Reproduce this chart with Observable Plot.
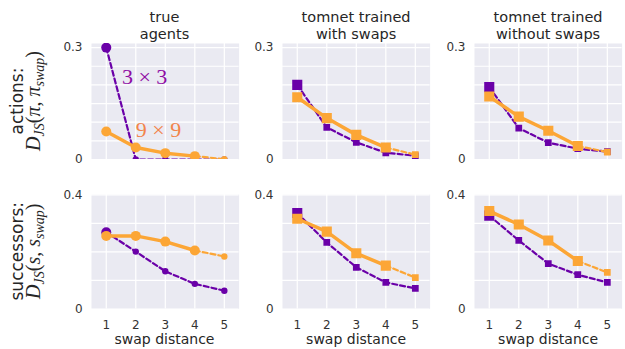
<!DOCTYPE html>
<html><head><meta charset="utf-8">
<script src="https://cdn.jsdelivr.net/npm/d3@7"></script>
<script src="https://cdn.jsdelivr.net/npm/@observablehq/plot@0.6"></script>
<style>
body{margin:0;background:#fff;}
#chart{position:relative;width:625px;height:349px;overflow:hidden;font-family:"DejaVu Sans",sans-serif;}
#chart svg{position:absolute;}
</style></head><body><div id="chart"></div>
<script>
// ---- data ----
const distances = [1, 2, 3, 4, 5];
const columnTitles = [["true", "agents"], ["tomnet trained", "with swaps"], ["tomnet trained", "without swaps"]];
const rowLabels = ["actions:", "successors:"];
const xLabel = "swap distance";
const seriesNames = ["3 × 3", "9 × 9"];
const trainedMax3 = 1;   // last in-distribution swap distance for 3x3
const trainedMax9 = 4;   // last in-distribution swap distance for 9x9

const actionsTrue3     = [0.300, 0.000, 0.000, 0.000, 0.000];
const actionsTrue9     = [0.075, 0.032, 0.017, 0.009, 0.001];
const actionsWith3     = [0.200, 0.086, 0.046, 0.018, 0.010];
const actionsWith9     = [0.167, 0.111, 0.066, 0.032, 0.013];
const actionsWithout3  = [0.194, 0.084, 0.045, 0.029, 0.021];
const actionsWithout9  = [0.169, 0.115, 0.077, 0.036, 0.020];
const successorsTrue3    = [0.269, 0.201, 0.132, 0.088, 0.064];
const successorsTrue9    = [0.256, 0.256, 0.236, 0.205, 0.184];
const successorsWith3    = [0.336, 0.233, 0.146, 0.093, 0.072];
const successorsWith9    = [0.316, 0.271, 0.195, 0.152, 0.110];
const successorsWithout3 = [0.327, 0.240, 0.159, 0.120, 0.093];
const successorsWithout9 = [0.343, 0.296, 0.240, 0.168, 0.128];

const topTicks = [0, 0.3], topTickLabels = ["0", "0.3"];
const bottomTicks = [0, 0.4], bottomTickLabels = ["0", "0.4"];
const topGrid = [0, 0.05, 0.1, 0.15, 0.2, 0.25, 0.3];
const bottomGrid = [0, 0.1, 0.2, 0.3, 0.4];
const annotations = [
  {text: "3 × 3", x: 1.53, y: 0.221, series: 0},
  {text: "9 × 9", x: 2.0, y: 0.078, series: 1}
];

// ---- styling / layout ----
const purple = "#6a00a8", orange = "#fca636";
const labelColors = ["#8f0da4", "#f2844b"];
const colL = [90.7, 282.3, 474.3], panelW = 147.6;
const rowT = [43, 194], rowH = [116, 114.5];
const ml = 45, mr = 5, mt = 5, mb = 45;

const panels = [
  {row: 0, col: 0, s3: actionsTrue3, s9: actionsTrue9, symbol: "circle"},
  {row: 0, col: 1, s3: actionsWith3, s9: actionsWith9, symbol: "square"},
  {row: 0, col: 2, s3: actionsWithout3, s9: actionsWithout9, symbol: "square"},
  {row: 1, col: 0, s3: successorsTrue3, s9: successorsTrue9, symbol: "circle"},
  {row: 1, col: 1, s3: successorsWith3, s9: successorsWith9, symbol: "square"},
  {row: 1, col: 2, s3: successorsWithout3, s9: successorsWithout9, symbol: "square"}
];

const chart = document.getElementById("chart");

// overlay for titles and labels
const overlay = d3.select(chart).append("svg")
  .attr("width", 625).attr("height", 349)
  .style("left", "0px").style("top", "0px")
  .attr("font-family", "DejaVu Sans").attr("fill", "#262626");

columnTitles.forEach((t, c) => {
  const cx = colL[c] + panelW / 2;
  overlay.append("text").attr("x", cx).attr("y", 21.5).attr("text-anchor", "middle").attr("font-size", 14.5).text(t[0]);
  overlay.append("text").attr("x", cx).attr("y", 38.5).attr("text-anchor", "middle").attr("font-size", 14.5).text(t[1]);
  overlay.append("text").attr("x", cx).attr("y", 344).attr("text-anchor", "middle").attr("font-size", 14).text(xLabel);
});

function mathLabel(cy, arg) {
  const t = overlay.append("text")
    .attr("transform", `translate(40,${cy}) rotate(-90)`)
    .attr("text-anchor", "middle")
    .attr("font-family", "Liberation Serif").attr("font-size", 20);
  t.append("tspan").attr("font-style", "italic").text("D");
  t.append("tspan").attr("font-style", "italic").attr("font-size", 14).attr("dy", 4).text("JS");
  t.append("tspan").attr("dy", -4).text("(");
  t.append("tspan").attr("font-style", "italic").text(arg);
  t.append("tspan").text(", ");
  t.append("tspan").attr("font-style", "italic").text(arg);
  t.append("tspan").attr("font-style", "italic").attr("font-size", 14).attr("dy", 4).text("swap");
  t.append("tspan").attr("dy", -4).text(")");
}
rowLabels.forEach((lab, r) => {
  const cy = rowT[r] + rowH[r] / 2;
  overlay.append("text").attr("transform", `translate(22.7,${cy}) rotate(-90)`)
    .attr("text-anchor", "middle").attr("font-size", 17).text(lab);
  mathLabel(cy, r === 0 ? "π" : "s");
});

// ---- panels ----
panels.forEach(p => {
  const pts3 = distances.map((d, i) => ({x: d, y: p.s3[i], inDist: d <= trainedMax3}));
  const pts9 = distances.map((d, i) => ({x: d, y: p.s9[i], inDist: d <= trainedMax9}));
  const isSquare = p.symbol === "square";
  const rBig = isSquare ? 5.7 : 5, rSmall = isSquare ? 3.8 : 3.2;
  const ticks = p.row === 0 ? topTicks : bottomTicks;
  const tickLabels = p.row === 0 ? topTickLabels : bottomTickLabels;
  const grid = p.row === 0 ? topGrid : bottomGrid;
  const marks = [
    Plot.frame({fill: "#eaeaf2", stroke: null}),
    Plot.gridY(grid, {stroke: "white", strokeOpacity: 1, strokeWidth: 1.2}),
    Plot.gridX(distances, {stroke: "white", strokeOpacity: 1, strokeWidth: 1.2}),
    Plot.axisY(ticks, {tickSize: 0, tickPadding: 9, tickFormat: d => tickLabels[ticks.indexOf(d)], fontSize: 12, label: null}),
    // 3x3 series
    Plot.line(pts3.filter(d => d.x >= trainedMax3), {x: "x", y: "y", stroke: purple, strokeWidth: 2.2, strokeDasharray: "5,3", clip: true}),
    Plot.line(pts3.filter(d => d.inDist), {x: "x", y: "y", stroke: purple, strokeWidth: 3.5, clip: true}),
    Plot.dot(pts3, {x: "x", y: "y", r: d => d.inDist ? rBig : rSmall, symbol: p.symbol, fill: purple, stroke: null, clip: true}),
    // 9x9 series
    Plot.line(pts9.filter(d => d.x >= trainedMax9), {x: "x", y: "y", stroke: orange, strokeWidth: 2.2, strokeDasharray: "5,3", clip: true}),
    Plot.line(pts9.filter(d => d.inDist), {x: "x", y: "y", stroke: orange, strokeWidth: 3.5, clip: true}),
    Plot.dot(pts9, {x: "x", y: "y", r: d => d.inDist ? rBig : rSmall, symbol: p.symbol, fill: orange, stroke: null, clip: true})
  ];
  if (p.row === 1) {
    marks.push(Plot.axisX(distances, {tickSize: 0, tickPadding: 11, fontSize: 12, label: null}));
  }
  if (p.row === 0 && p.col === 0) {
    marks.push(Plot.text(annotations, {x: "x", y: "y", text: "text", textAnchor: "start",
      fill: d => labelColors[d.series], fontFamily: "Liberation Serif", fontSize: 22}));
  }
  const svg = Plot.plot({
    width: panelW + ml + mr,
    height: rowH[p.row] + mt + mb,
    marginLeft: ml, marginRight: mr, marginTop: mt, marginBottom: mb,
    x: {domain: [0.5, 5.5], axis: null, label: null},
    y: {domain: p.row === 0 ? [0, 0.311] : [0, 0.401], axis: null, label: null},
    r: {type: "identity"},
    symbol: {type: "identity"},
    style: {fontFamily: "DejaVu Sans", fontSize: "12px", color: "#333", background: "transparent", overflow: "visible"},
    marks
  });
  svg.style.position = "absolute";
  svg.style.left = (colL[p.col] - ml) + "px";
  svg.style.top = (rowT[p.row] - mt) + "px";
  chart.appendChild(svg);
});
</script></body></html>
